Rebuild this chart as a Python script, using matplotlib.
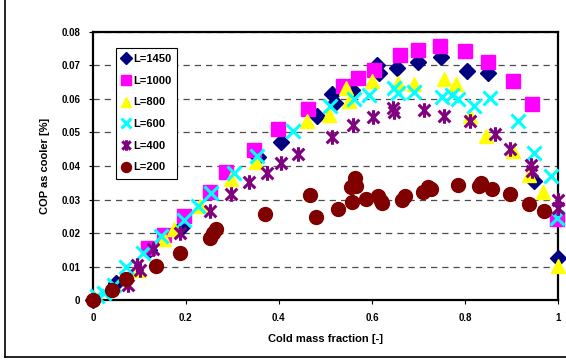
import matplotlib
matplotlib.use("Agg")
import matplotlib.pyplot as plt
from matplotlib.path import Path
from matplotlib.lines import Line2D

plt.rcParams['font.family'] = ['Liberation Sans', 'DejaVu Sans']
plt.rcParams['font.weight'] = 'bold'

# Cold mass fraction / COP readings for each tube length
x_1450 = [0.0, 0.05, 0.12, 0.192, 0.354, 0.404, 0.482, 0.515, 0.521, 0.558, 0.611, 0.616,
          0.654, 0.698, 0.749, 0.805, 0.850, 0.949, 1.0]
y_1450 = [0.0, 0.005, 0.015, 0.0218, 0.0427, 0.0471, 0.0548, 0.0615, 0.0588, 0.0628, 0.0701, 0.0676,
          0.0692, 0.0711, 0.0726, 0.0683, 0.0676, 0.0355, 0.0126]

x_1000 = [0.118, 0.153, 0.196, 0.251, 0.286, 0.346, 0.398, 0.462, 0.537, 0.571, 0.605, 0.661,
          0.698, 0.747, 0.799, 0.850, 0.904, 0.945, 0.998]
y_1000 = [0.0156, 0.0193, 0.0250, 0.0322, 0.0382, 0.0447, 0.0511, 0.0570, 0.0640, 0.0663, 0.0685, 0.0730,
          0.0747, 0.0759, 0.0742, 0.0710, 0.0653, 0.0585, 0.0241]

x_800 = [0.099, 0.153, 0.175, 0.231, 0.297, 0.350, 0.461, 0.507, 0.545, 0.550, 0.601, 0.655,
         0.690, 0.755, 0.780, 0.811, 0.846, 0.903, 0.937, 0.967, 1.0]
y_800 = [0.0090, 0.0181, 0.0211, 0.0280, 0.0360, 0.0412, 0.0534, 0.0553, 0.0633, 0.0593, 0.0653, 0.0646,
         0.0643, 0.0660, 0.0643, 0.0548, 0.0489, 0.0444, 0.0372, 0.0322, 0.0101]

x_600 = [0.009, 0.025, 0.045, 0.072, 0.107, 0.146, 0.195, 0.227, 0.254, 0.303, 0.352, 0.430,
         0.509, 0.562, 0.593, 0.647, 0.655, 0.690, 0.750, 0.772, 0.784, 0.820, 0.854, 0.914,
         0.949, 0.984, 0.998]
y_600 = [0.0012, 0.0020, 0.0045, 0.0100, 0.0140, 0.0190, 0.0240, 0.0280, 0.0318, 0.0380, 0.0431, 0.0504,
         0.0578, 0.0600, 0.0613, 0.0633, 0.0618, 0.0620, 0.0605, 0.0613, 0.0600, 0.0578, 0.0602, 0.0534,
         0.0439, 0.0370, 0.0246]

x_400 = [0.075, 0.095, 0.102, 0.130, 0.188, 0.251, 0.297, 0.336, 0.375, 0.405, 0.441, 0.514,
         0.560, 0.602, 0.646, 0.648, 0.711, 0.755, 0.811, 0.864, 0.896, 0.942, 0.944, 1.0, 1.0]
y_400 = [0.0044, 0.0106, 0.0090, 0.0153, 0.0200, 0.0265, 0.0315, 0.0352, 0.0380, 0.0408, 0.0437, 0.0487,
         0.0521, 0.0547, 0.0573, 0.0560, 0.0568, 0.0549, 0.0534, 0.0494, 0.0452, 0.0402, 0.0385, 0.0300, 0.0275]

x_200 = [0.0, 0.042, 0.072, 0.135, 0.187, 0.251, 0.258, 0.265, 0.371, 0.466, 0.480, 0.527,
         0.556, 0.554, 0.564, 0.566, 0.587, 0.612, 0.620, 0.622, 0.665, 0.671, 0.710, 0.721,
         0.726, 0.784, 0.834, 0.830, 0.858, 0.896, 0.937, 0.970]
y_200 = [0.0, 0.0029, 0.0062, 0.0101, 0.0139, 0.0186, 0.0201, 0.0213, 0.0258, 0.0313, 0.0248, 0.0273,
         0.0293, 0.0338, 0.0363, 0.0340, 0.0303, 0.0310, 0.0295, 0.0290, 0.0300, 0.0310, 0.0323, 0.0337,
         0.0330, 0.0343, 0.0350, 0.0340, 0.0330, 0.0315, 0.0288, 0.0265]

# Asterisk marker: an X with a vertical stroke
star = Path([(-1, -1), (1, 1), (-1, 1), (1, -1), (0, -1.25), (0, 1.25)],
            [Path.MOVETO, Path.LINETO, Path.MOVETO, Path.LINETO, Path.MOVETO, Path.LINETO])

fig = plt.figure(figsize=(5.66, 3.62), dpi=100)
ax = fig.add_axes([0.164, 0.171, 0.822, 0.741])

ax.plot(x_1450, y_1450, ls='none', marker='D', ms=8.5, color='#000080', label='L=1450', clip_on=False, zorder=3)
ax.plot(x_1000, y_1000, ls='none', marker='s', ms=9.5, color='#FF00FF', label='L=1000', clip_on=False, zorder=3)
ax.plot(x_800, y_800, ls='none', marker='^', ms=10, color='#FFFF00', label='L=800', clip_on=False, zorder=3)
ax.plot(x_600, y_600, ls='none', marker='x', ms=9.5, mew=2.2, color='#00FFFF', label='L=600', clip_on=False, zorder=3)
ax.plot(x_400, y_400, ls='none', marker=star, ms=10.5, mew=2.2, color='#800080', label='L=400', clip_on=False, zorder=3)
ax.plot(x_200, y_200, ls='none', marker='o', ms=10, color='#800000', label='L=200', clip_on=False, zorder=3)

ax.set_xlim(0, 1)
ax.set_ylim(0, 0.08)
ax.set_xticks([0, 0.2, 0.4, 0.6, 0.8, 1])
ax.set_xticklabels(['0', '0.2', '0.4', '0.6', '0.8', '1'])
ax.set_yticks([0, 0.01, 0.02, 0.03, 0.04, 0.05, 0.06, 0.07, 0.08])
ax.set_yticklabels(['0', '0.01', '0.02', '0.03', '0.04', '0.05', '0.06', '0.07', '0.08'])
ax.tick_params(labelsize=7, length=3, width=0.8, pad=6)
for t in ax.get_xticklabels() + ax.get_yticklabels():
    t.set_fontweight('bold')

ax.yaxis.grid(True, ls=(0, (5, 4)), color='#4d4d4d', lw=0.9)
ax.set_axisbelow(True)
for s in ax.spines.values():
    s.set_linewidth(1.6)

ax.set_xlabel('Cold mass fraction [-]', fontsize=8, fontweight='bold', labelpad=8)
ax.set_ylabel('COP as cooler [%]', fontsize=8, fontweight='bold', labelpad=8)

leg = ax.legend(loc='upper left', bbox_to_anchor=(0.049, 0.94), prop={'weight': 'bold', 'size': 8},
                frameon=True, fancybox=False, edgecolor='black', framealpha=1,
                handlelength=0.8, handletextpad=0.2, labelspacing=1.05, borderpad=0.55, markerscale=0.72,
                borderaxespad=0)
leg.get_frame().set_linewidth(0.8)

# Outer frame around the chart
fig.add_artist(Line2D([0.009, 0.009], [0.014, 1.0], transform=fig.transFigure, color='black', lw=1.2))
fig.add_artist(Line2D([0.009, 1.0], [0.014, 0.014], transform=fig.transFigure, color='black', lw=1.2))

fig.savefig('out.png', dpi=100)
